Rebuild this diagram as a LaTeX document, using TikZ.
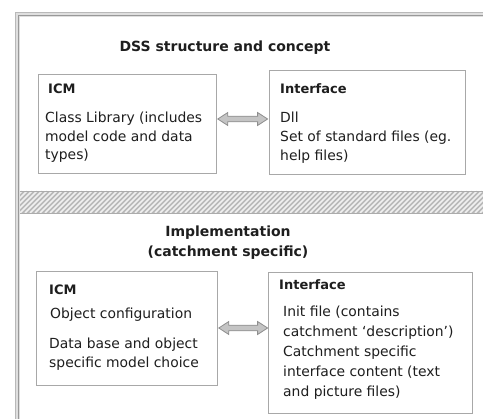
\documentclass[tikz,border=0pt]{standalone}
\usepackage{fontspec}
\setmainfont{DejaVu Sans}
\usetikzlibrary{calc}
\definecolor{txt}{HTML}{1E1E1E}
\definecolor{boxline}{HTML}{A8A8A8}
\definecolor{arrfill}{HTML}{C4C4C4}
\definecolor{arrline}{HTML}{8E8E8E}
\tikzset{
  box/.style={draw=boxline, line width=1.2pt, fill=white, inner sep=0pt, anchor=north west},
  body/.style={inner sep=0pt, anchor=base west, align=left, text=txt, font=\fontsize{13.9}{18.5}\selectfont},
  bodym/.style={body, font=\fontsize{13.9}{19}\selectfont},
  bodyw/.style={body, font=\fontsize{13.9}{20}\selectfont},
  head/.style={inner sep=0pt, anchor=base west, text=txt, font=\fontsize{13}{16}\selectfont\bfseries},
  title/.style={inner sep=0pt, anchor=base, align=center, text=txt, font=\fontsize{14}{20.5}\selectfont\bfseries},
  blockarrow/.style={fill=arrfill, draw=arrline, line width=0.8pt, line join=miter}
}
\newcommand\dblarrow[2]{%
  \draw[blockarrow] let \p1=(#1), \p2=(#2) in
    (\x1,\y1) -- (\x1+10pt,\y1+6.5pt) -- (\x1+10pt,\y1+2.8pt) -- (\x2-10pt,\y1+2.8pt)
    -- (\x2-10pt,\y1+6.5pt) -- (\x2,\y1) -- (\x2-10pt,\y1-6.5pt) -- (\x2-10pt,\y1-2.8pt)
    -- (\x1+10pt,\y1-2.8pt) -- (\x1+10pt,\y1-6.5pt) -- cycle;}
\begin{document}
\begin{tikzpicture}[x=1pt,y=-1pt]
\useasboundingbox (0,0) rectangle (483,419);
% outer frame (left and top only)
\fill[gray!25] (15,12) rectangle (483,17);
\fill[gray!25] (15,12) rectangle (20,419);
\draw[gray!55, line width=1pt] (15.5,419) -- (15.5,12.5) -- (483,12.5);
\draw[gray!80, line width=1.3pt] (18.6,419) -- (18.6,15.6) -- (483,15.6);
% hatched band
\fill[gray!55] (20,191) rectangle (483,213);
\begin{scope}
  \clip (20,191) rectangle (483,213);
  \foreach \i in {-25,-20,...,490} \draw[gray!12, line width=1.7pt] (\i,213) -- ++(22,-22);
\end{scope}
\draw[gray!65, line width=0.8pt] (20,191) -- (483,191) (20,213) -- (483,213);
% titles (base anchor = baseline of the last line)
\node[title] (t1) at (225,52) {DSS structure and concept};
\node[title] (t2) at (228,257) {Implementation\\(catchment specific)};
% boxes
\node[box, minimum width=178pt, minimum height=99pt] (icmA) at (38,74) {};
\node[box, minimum width=196pt, minimum height=104pt] (ifA) at (269,70) {};
\node[box, minimum width=181pt, minimum height=114pt] (icmB) at (36,271) {};
\node[box, minimum width=204pt, minimum height=141pt] (ifB) at (268,272) {};
% texts top
\node[head] (hA1) at (48,94) {ICM};
\node[body] (bA1) at (45,160) {Class Library (includes\\model code and data\\types)};
\node[head] (hA2) at (280,94) {Interface};
\node[body] (bA2) at (280,123) {Dll};
\node[body] (bA3) at (280,160.5) {Set of standard files (eg.\\help files)};
% texts bottom
\node[head] (hB1) at (49,295) {ICM};
\node[body] (bB1) at (50,319) {Object configuration};
\node[bodym] (bB2) at (49,368) {Data base and object\\specific model choice};
\node[head] (hB2) at (279,290) {Interface};
\node[bodyw] (bB3) at (283,397) {Init file (contains\\catchment `description')\\Catchment specific\\interface content (text\\and picture files)};
% arrows
\coordinate (aL1) at ($(icmA.north east)+(0.6,45)$);
\coordinate (aR1) at ($(ifA.north west)+(-1.4,49)$);
\dblarrow{aL1}{aR1}
\coordinate (aL2) at ($(icmB.north east)+(0.6,57)$);
\coordinate (aR2) at ($(ifB.north west)+(-0.4,56)$);
\dblarrow{aL2}{aR2}
\end{tikzpicture}
\end{document}
